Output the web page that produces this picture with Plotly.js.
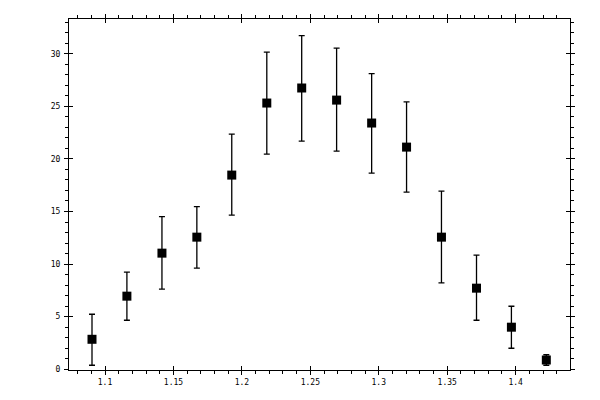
<!DOCTYPE html>
<html>
<head>
<meta charset="utf-8">
<script src="https://cdn.plot.ly/plotly-3.0.1.min.js"></script>
<style>html,body{margin:0;padding:0;background:#fff;}#chart{width:600px;height:400px;}</style>
</head>
<body>
<div id="chart"></div>
<script>
var xValues = [1.0905, 1.1160, 1.1416, 1.1671, 1.1926, 1.2182, 1.2437, 1.2692, 1.2948, 1.3203, 1.3458, 1.3714, 1.3969, 1.4224];
var yValues = [2.85, 6.95, 11.04, 12.56, 18.46, 25.31, 26.74, 25.59, 23.41, 21.12, 12.56, 7.71, 4.0, 0.88];
var yErrUp = [2.38, 2.28, 3.48, 2.91, 3.90, 4.85, 4.97, 4.95, 4.69, 4.31, 4.38, 3.14, 1.99, 0.5];
var yErrDown = [2.47, 2.29, 3.43, 2.95, 3.81, 4.85, 5.05, 4.85, 4.76, 4.28, 4.35, 3.05, 2.00, 0.5];

var xRange = [1.0737, 1.4397];
var yRange = [-0.07, 33.3];

var tickFont = {family: 'DejaVu Sans Mono, monospace', size: 8, color: '#000'};

var traces = [
  {
    type: 'scatter', mode: 'markers', x: xValues, y: yValues,
    marker: {symbol: 'square', size: 9, color: '#000'},
    error_y: {type: 'data', symmetric: false, array: yErrUp, arrayminus: yErrDown,
      color: '#000', thickness: 1.3, width: 3},
    showlegend: false, hoverinfo: 'none'
  },
  {
    type: 'scatter', mode: 'markers', x: [null], y: [null],
    xaxis: 'x2', yaxis: 'y2', showlegend: false, hoverinfo: 'none'
  }
];

var layout = {
  width: 600, height: 400,
  margin: {l: 69, r: 30, t: 19, b: 30, pad: 0},
  paper_bgcolor: '#fff', plot_bgcolor: '#fff',
  showlegend: false,
  xaxis: {
    range: xRange, dtick: 0.05, tick0: 0,
    ticks: 'outside', ticklen: 4, tickwidth: 1, tickcolor: '#000',
    minor: {dtick: 0.01, tick0: 0, ticks: 'outside', ticklen: 3, tickwidth: 1, tickcolor: '#000', showgrid: false},
    showline: true, linecolor: '#000', linewidth: 1, mirror: 'allticks',
    showgrid: false, zeroline: false, tickfont: tickFont
  },
  yaxis: {
    range: yRange, dtick: 5, tick0: 0,
    ticks: 'outside', ticklen: 4, tickwidth: 1, tickcolor: '#000',
    minor: {dtick: 1, tick0: 0, ticks: 'outside', ticklen: 3, tickwidth: 1, tickcolor: '#000', showgrid: false},
    showline: true, linecolor: '#000', linewidth: 1, mirror: 'allticks',
    showgrid: false, zeroline: false, tickfont: tickFont, ticklabelstandoff: 2
  },
  xaxis2: {
    overlaying: 'x', range: xRange, dtick: 0.05, tick0: 0,
    ticks: 'inside', ticklen: 4, tickwidth: 1, tickcolor: '#000',
    mirror: 'allticks', showline: false, showticklabels: false,
    showgrid: false, zeroline: false
  },
  yaxis2: {
    overlaying: 'y', range: yRange, dtick: 5, tick0: 0,
    ticks: 'inside', ticklen: 4, tickwidth: 1, tickcolor: '#000',
    mirror: 'allticks', showline: false, showticklabels: false,
    showgrid: false, zeroline: false
  }
};

Plotly.newPlot('chart', traces, layout, {staticPlot: true, displayModeBar: false});
</script>
</body>
</html>
